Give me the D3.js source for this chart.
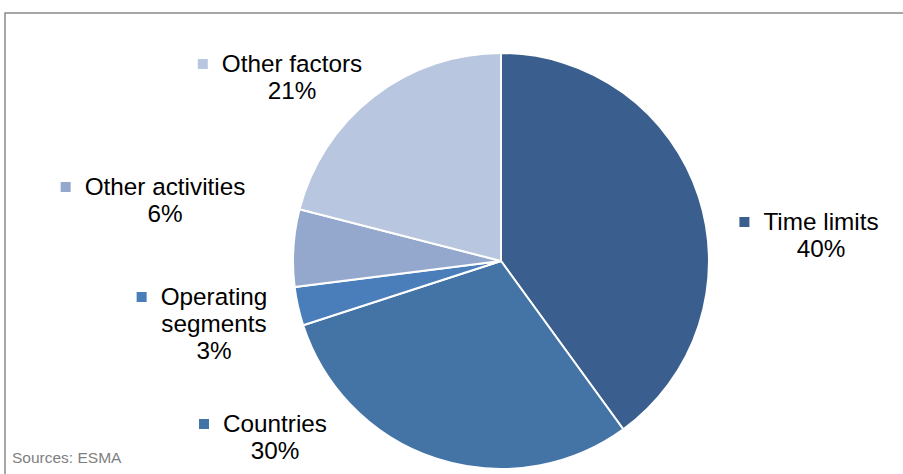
<!DOCTYPE html>
<html>
<head>
<meta charset="utf-8">
<script src="https://cdn.jsdelivr.net/npm/d3@7"></script>
<style>
  body { margin: 0; background: #fff; }
  svg { display: block; font-family: "Liberation Sans", Arial, sans-serif; }
</style>
</head>
<body>
<svg id="chart" width="903" height="474"></svg>
<script>
// data (per cent)
var categories = ["Time limits", "Countries", "Operating segments", "Other activities", "Other factors"];
var values = [40, 30, 3, 6, 21];
var colours = ["#3a5f8e", "#4473a6", "#4a7ebb", "#94a8ce", "#b9c6df"];
// how the label text wraps
var labelLines = [["Time limits"], ["Countries"], ["Operating", "segments"], ["Other activities"], ["Other factors"]];

var svg = d3.select("#chart"),
    width = +svg.attr("width"),
    height = +svg.attr("height");

var cx = 501, cy = 261, radius = 208;

// frame (only top and left edges show)
svg.append("path")
  .attr("d", "M5,474 L5,13 L903,13")
  .attr("fill", "none")
  .attr("stroke", "#8a8a8a")
  .attr("stroke-width", 1.5);

var pie = d3.pie().sort(null).value(function(d) { return d; });
var arc = d3.arc().innerRadius(0).outerRadius(radius);
var arcs = pie(values);

var g = svg.append("g").attr("transform", "translate(" + cx + "," + cy + ")");

g.selectAll("path.slice")
  .data(arcs)
  .enter().append("path")
    .attr("class", "slice")
    .attr("d", arc)
    .attr("fill", function(d, i) { return colours[i]; })
    .attr("stroke", "#fff")
    .attr("stroke-width", 2);

// label placement, offsets from pie centre (text centre x, first baseline y)
var labelOffset = [[320, -31], [-226, 171], [-287, 44], [-336, -66], [-209, -189]];
var fontSize = 24.3, lineH = 27;

var labels = svg.append("g").selectAll("g.label")
  .data(arcs)
  .enter().append("g")
    .attr("class", "label")
    .attr("transform", function(d, i) {
      return "translate(" + (cx + labelOffset[i][0]) + "," + (cy + labelOffset[i][1]) + ")";
    });

labels.each(function(d, i) {
  var lg = d3.select(this);
  var lines = labelLines[i].concat([d.data + "%"]);
  var t = lg.append("text")
    .attr("text-anchor", "middle")
    .attr("font-size", fontSize)
    .attr("fill", "#000");
  lines.forEach(function(s, k) {
    t.append("tspan").attr("x", 0).attr("y", k * lineH).text(s);
  });
  var first = t.select("tspan").node().getComputedTextLength();
  lg.append("rect")
    .attr("x", -first / 2 - 24)
    .attr("y", -13)
    .attr("width", 10)
    .attr("height", 10)
    .attr("fill", colours[i]);
});

svg.append("text")
  .attr("x", 12)
  .attr("y", 463)
  .attr("font-size", 15.5)
  .attr("fill", "#7f7f7f")
  .text("Sources: ESMA");
</script>
</body>
</html>
